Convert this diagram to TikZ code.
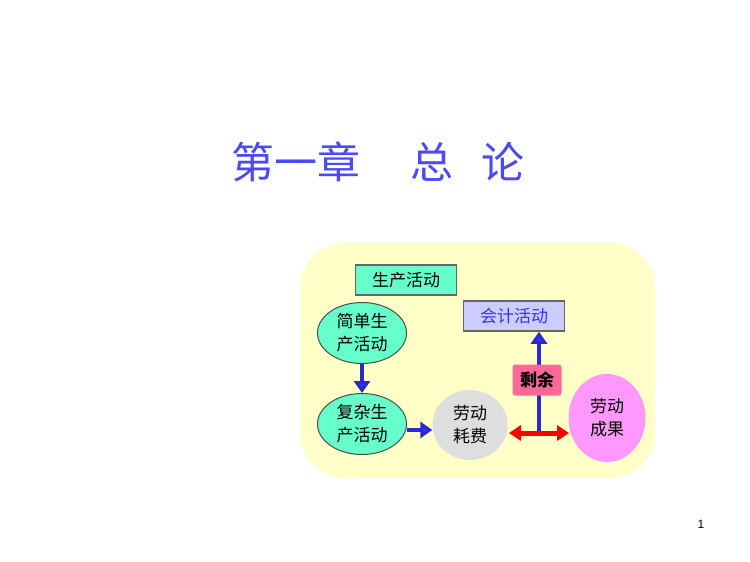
\documentclass[tikz,border=0pt]{standalone}
\usepackage{fontspec}
\setsansfont{Liberation Sans}
\newfontfamily\cjk{Noto Sans CJK SC}
\usepackage{xcolor}
\usetikzlibrary{arrows.meta}
\usetikzlibrary{shapes.geometric}
\usetikzlibrary{backgrounds}
\usetikzlibrary{positioning}
\definecolor{titleblue}{HTML}{4A4AF8}
\definecolor{mint}{HTML}{66FFCC}
\definecolor{lavender}{HTML}{CCCCFF}
\definecolor{roseRed}{HTML}{FF6699}
\definecolor{pinkish}{HTML}{FF99FF}
\definecolor{paleYellow}{HTML}{FFFFC8}
\definecolor{arrowblue}{HTML}{3333FF}
\tikzset{
  rectbox/.style={draw=black!60, line width=1.5pt, minimum width=101pt, minimum height=30pt,
    inner sep=0pt, font=\cjk\fontsize{17}{19}\selectfont},
  oval/.style={ellipse, draw=black!70, line width=1pt, fill=mint, minimum width=89pt,
    minimum height=61pt, inner sep=0pt, align=center, font=\cjk\fontsize{17}{23}\selectfont},
  blob/.style={ellipse, inner sep=0pt, align=center, font=\cjk\fontsize{17}{23}\selectfont},
  bluearrow/.style={draw=arrowblue!80!black, line width=4.5pt, -{Triangle[length=12pt,width=16pt,fill=arrowblue]}},
  redarrow/.style={draw=red, line width=5pt, {Triangle[length=12pt,width=15pt]}-{Triangle[length=12pt,width=15pt]}}
}
\begin{document}
\begin{tikzpicture}[x=1pt,y=-1pt]
\useasboundingbox (0,0) rectangle (750,562);

% title
\node[text=titleblue, font=\cjk\fontsize{43}{46}\selectfont] (title) at (378,162)
  {第一章\hspace{50pt}总\hspace{28pt}论};

% nodes
\node[rectbox, fill=mint] (prod) at (406,280) {生产活动};
\node[rectbox, fill=lavender, text=arrowblue] (acct) at (514,316) {会计活动};
\node[oval] (simple) at (362,333) {简单生\\产活动};
\node[oval] (complex) at (362,424) {复杂生\\产活动};
\node[blob, fill=black!13, minimum width=75pt, minimum height=70pt] (cost) at (470,425) {劳动\\耗费};
\node[blob, fill=pinkish, minimum width=77pt, minimum height=88pt] (result) at (607,418) {劳动\\成果};
\node[fill=roseRed, rounded corners=3pt, minimum width=49pt, minimum height=31pt, inner sep=0pt,
  font=\cjk\bfseries\fontsize{17}{20}\selectfont] (surplus) at (537,380) {剩余};
\coordinate (redL) at (509,433);
\coordinate (redR) at (569,433);
\coordinate (redM) at (539,433);

\node[font=\sffamily\fontsize{12}{14}\selectfont] (page) at (701,524) {1};

% background and connectors
\begin{pgfonlayer}{background}
\fill[paleYellow, rounded corners=45pt] (300,243) rectangle (655,478);
\draw[bluearrow] (redM) -- (acct.south -| redM);
\draw[bluearrow] (simple.south) -- (complex.north);
\draw[bluearrow] (complex.east |- 0,430) -- (cost.west |- 0,430);
\draw[redarrow] (redL) -- (redR);
\end{pgfonlayer}
\end{tikzpicture}
\end{document}
